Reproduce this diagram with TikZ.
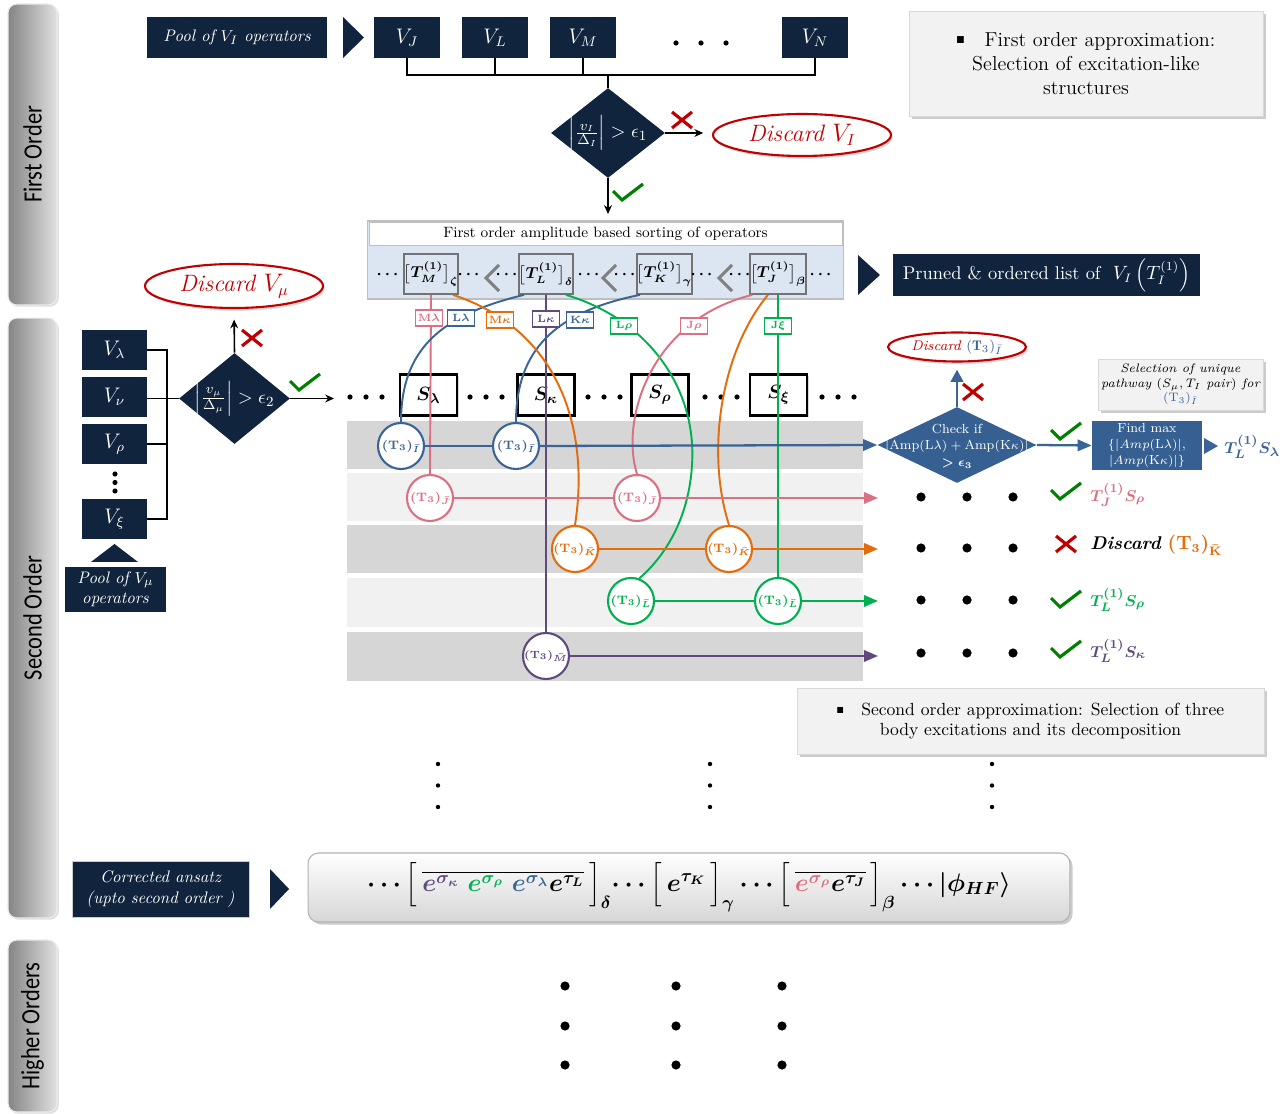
\documentclass[tikz,border=0pt]{standalone}
\usepackage{amsmath,amssymb,bm}
\usepackage{fontspec}
\newfontfamily\barfont{Carlito}
\usetikzlibrary{shapes.geometric,shadows,arrows.meta,calc}
\definecolor{navy}{RGB}{16,36,62}
\definecolor{bl}{RGB}{58,100,150}
\definecolor{blf}{RGB}{55,96,146}
\definecolor{pk}{RGB}{219,112,130}
\definecolor{org}{RGB}{228,108,10}
\definecolor{grn}{RGB}{0,176,80}
\definecolor{pur}{RGB}{96,74,123}
\definecolor{rd}{RGB}{192,0,0}
\definecolor{chk}{RGB}{0,128,0}
\definecolor{panel}{RGB}{220,230,242}
\definecolor{bandD}{RGB}{214,214,214}
\definecolor{bandL}{RGB}{241,241,241}
\definecolor{boxg}{RGB}{242,242,242}
\tikzset{
  navybox/.style={fill=navy,text=white,inner sep=0pt,align=center},
  vbox/.style={navybox,minimum width=1.32cm,minimum height=0.82cm,font=\fontsize{12}{12}\selectfont},
  dianode/.style={diamond,fill=navy,inner sep=0pt},
  blkline/.style={line width=0.9pt},
  blkarrow/.style={line width=0.9pt,-{Stealth[length=5pt,width=4.5pt]}},
  discard/.style={ellipse,draw=rd,line width=1.2pt,fill=white,text=rd,inner sep=0pt,
     drop shadow={opacity=0.3,shadow xshift=1pt,shadow yshift=-1.5pt}},
  graybox/.style={fill=boxg,draw=black!15,line width=0.4pt,align=center,inner sep=0pt,
     drop shadow={opacity=0.4,shadow xshift=1.5pt,shadow yshift=-1.5pt}},
  barsty/.style={rounded corners=5pt,left color=black!48,right color=black!12,draw=black!8,line width=0.6pt,
     drop shadow={opacity=0.25,shadow xshift=1pt,shadow yshift=-1pt}},
  bartext/.style={rotate=90,font=\barfont\fontsize{15}{15}\selectfont},
  tbox/.style={draw=black!55,line width=1pt,minimum width=1.08cm,minimum height=0.8cm,inner sep=0pt,
     font=\boldmath\fontsize{9}{9}\selectfont},
  sbox/.style={draw=black,line width=1.4pt,fill=white,minimum width=1.14cm,minimum height=0.82cm,inner sep=0pt,
     font=\boldmath\fontsize{11}{11}\selectfont,drop shadow={opacity=0.3,shadow xshift=1pt,shadow yshift=-1pt}},
  tcirc/.style={circle,draw=#1,text=#1,line width=1.2pt,fill=white,minimum size=0.92cm,inner sep=0pt,
     font=\boldmath\fontsize{7.5}{7.5}\selectfont},
  lbox/.style={draw=#1,text=#1,line width=0.7pt,fill=white,minimum width=0.54cm,minimum height=0.32cm,inner sep=0pt,
     font=\boldmath\fontsize{6.5}{6.5}\selectfont},
  cline/.style={draw=#1,line width=1.1pt},
  rowarrow/.style={draw=#1,fill=#1,line width=1.3pt,-{Triangle[length=8pt,width=6.5pt]}},
  chev/.style={draw=black!50,line width=1.8pt},
  crossmk/.pic={\draw[rd,line width=1.8pt] (-10,-8)--(10,8) (-10,8)--(10,-8);},
  checkmk/.pic={\draw[chk,line width=1.8pt] (-15,-2)--(-6,7)--(15,-9);},
  dotlbl/.style={font=\boldmath\fontsize{9}{9}\selectfont,inner sep=0pt},
  reslbl/.style={anchor=west,inner sep=0pt,font=\boldmath\fontsize{9.5}{9.5}\selectfont},
}
\begin{document}
\begin{tikzpicture}[x=0.02cm,y=-0.02cm]
\useasboundingbox (0,0) rectangle (1285,1114);
\fill[white] (0,0) rectangle (1285,1114);

% ---------- left section bars
\node[barsty,minimum width=0.98cm,minimum height=6.02cm] (bar1) at (32.5,154.5) {};
\node[bartext] (bar1t) at (bar1) {\scalebox{0.85}[1]{First Order}};
\node[barsty,minimum width=0.98cm,minimum height=12cm] (bar2) at (32.5,618) {};
\node[bartext] (bar2t) at (bar2) {\scalebox{0.85}[1]{Second Order}};
\node[barsty,minimum width=0.98cm,minimum height=3.44cm] (bar3) at (32.5,1026) {};
\node[bartext] (bar3t) at (bar3) {\scalebox{0.85}[1]{Higher Orders}};

% ---------- first order
\node[navybox,minimum width=3.6cm,minimum height=0.82cm,font=\itshape\fontsize{9.5}{9.5}\selectfont] (pool1) at (237,37.5) {Pool of $V_I$ operators};
\fill[navy] (343,17) -- (364,37.5) -- (343,58) -- cycle;
\node[vbox] (vJ) at (407,37.5) {$V_J$};
\node[vbox] (vL) at (495,37.5) {$V_L$};
\node[vbox] (vM) at (583,37.5) {$V_M$};
\node[vbox] (vN) at (815,37.5) {$V_N$};
\foreach \xx in {676,701,726} \fill (\xx,43) circle (2.6);
\coordinate (bus1) at (608,75);
\node[dianode,minimum width=2.28cm,minimum height=1.8cm] (d1) at (608,133) {};
\node[text=white,font=\fontsize{11}{11}\selectfont,inner sep=0pt] (d1t) at (d1) {$\left|\frac{v_I}{\Delta_I}\right| > \epsilon_1$};
\draw[blkline] (vJ.south) |- (bus1);
\draw[blkline] (vL.south) |- (bus1);
\draw[blkline] (vM.south) |- (bus1);
\draw[blkline] (vN.south) |- (bus1);
\draw[blkline] (bus1) -- (d1.north);
\node[discard,minimum width=3.56cm,minimum height=0.84cm,font=\itshape\fontsize{13.5}{13.5}\selectfont] (disc1) at (802,135) {Discard $V_I$};
\draw[blkarrow,shorten >=5pt] (d1.east) -- (d1.east -| disc1.west);
\pic at (682,120) {crossmk};
\coordinate (d1out) at (608,214);
\draw[blkarrow] (d1.south) -- (d1out);
\pic at (628,193) {checkmk};

\node[graybox,minimum width=7.08cm,minimum height=2.1cm,font=\fontsize{11.5}{13.6}\selectfont] (fo) at (1086,63.5)
  {\raisebox{1.5pt}{\scalebox{0.5}{$\blacksquare$}}\quad First order approximation:\\ Selection of excitation-like\\ structures};

% ---------- sorting panel
\node[fill=panel,draw=black!25,line width=0.6pt,minimum width=9.54cm,minimum height=1.56cm,inner sep=0pt] (sortp) at (605.5,260) {};
\node[fill=white,draw=black!25,line width=0.5pt,minimum width=9.46cm,minimum height=0.46cm,inner sep=0pt,font=\fontsize{8.5}{8.5}\selectfont] (sortt) at (605.5,234) {First order amplitude based sorting of operators};
\node[tbox] (tM) at (431,274) {$\big[T_M^{(1)}\big]_{\zeta}$};
\node[tbox] (tL) at (546,274) {$\big[T_L^{(1)}\big]_{\delta}$};
\node[tbox] (tK) at (664.5,274) {$\big[T_K^{(1)}\big]_{\gamma}$};
\node[tbox] (tJ) at (778,274) {$\big[T_J^{(1)}\big]_{\beta}$};
\node[dotlbl] (sd1) at (389,275) {$\cdots$};
\node[dotlbl] (sd2) at (470,275) {$\cdots$};
\node[dotlbl] (sd3) at (508,275) {$\cdots$};
\node[dotlbl] (sd4) at (590,275) {$\cdots$};
\node[dotlbl] (sd5) at (626,275) {$\cdots$};
\node[dotlbl] (sd6) at (703,275) {$\cdots$};
\node[dotlbl] (sd7) at (741,275) {$\cdots$};
\node[dotlbl] (sd8) at (822,275) {$\cdots$};
\draw[chev] (499,265) -- (486,278) -- (499,291);
\draw[chev] (616,265) -- (603,278) -- (616,291);
\draw[chev] (732,265) -- (719,278) -- (732,291);

\fill[navy] (858,255) -- (880,275) -- (858,295) -- cycle;
\node[navybox,minimum width=6.14cm,minimum height=0.84cm,font=\fontsize{10.5}{10.5}\selectfont] (pruned) at (1046.5,275) {Pruned \& ordered list of \ $V_I\left(T_I^{(1)}\right)$};

% ---------- second order: left part
\node[discard,minimum width=3.56cm,minimum height=0.88cm,font=\itshape\fontsize{13.5}{13.5}\selectfont] (disc2) at (234,286) {Discard $V_\mu$};
\node[vbox,minimum width=1.3cm] (vl) at (114.5,350) {$V_\lambda$};
\node[vbox,minimum width=1.3cm] (vn) at (114.5,397) {$V_\nu$};
\node[vbox,minimum width=1.3cm] (vr) at (114.5,444) {$V_\rho$};
\node[vbox,minimum width=1.3cm] (vx) at (114.5,519) {$V_\xi$};
\foreach \yy in {474,482.5,491} \fill (115,\yy) circle (2.6);
\fill[navy] (91,562) -- (114.5,544) -- (138,562) -- cycle;
\node[navybox,minimum width=2.02cm,minimum height=0.9cm,font=\itshape\fontsize{9.5}{11.5}\selectfont] (pool2) at (115.5,589.5) {Pool of $V_\mu$\\ operators};
\node[dianode,minimum width=2.22cm,minimum height=1.82cm] (d2) at (234.5,398.5) {};
\node[text=white,font=\fontsize{11}{11}\selectfont,inner sep=0pt] (d2t) at (d2) {$\left|\frac{v_\mu}{\Delta_\mu}\right| > \epsilon_2$};
\coordinate (bus2) at (167,398.5);
\draw[blkline] (vl.east) -| (bus2);
\draw[blkline] (vr.east) -| (bus2);
\draw[blkline] (vx.east) -| (bus2);
\draw[blkline] (vn.east |- bus2) -- (d2.west);
\draw[blkarrow,shorten >=6pt] (d2.north) -- (disc2.south);
\pic at (252,338) {crossmk};
\coordinate (d2out) at (334,398.5);
\draw[blkarrow] (d2.east) -- (d2out);
\pic at (305,383) {checkmk};

% ---------- bands
\fill[bandD] (347,421) rectangle (863,469);
\fill[bandL] (347,473) rectangle (863,521);
\fill[bandD] (347,525) rectangle (863,573);
\fill[bandL] (347,578) rectangle (863,627);
\fill[bandD] (347,632) rectangle (863,681);

% ---------- S row
\node[sbox] (sl) at (428.5,395) {$S_\lambda$};
\node[sbox] (sk) at (546,395) {$S_\kappa$};
\node[sbox] (sr) at (660,395) {$S_\rho$};
\node[sbox] (sx) at (778.5,395) {$S_\xi$};
\foreach \cx in {366,486,604,721,838} {\foreach \dx in {-16,0,16} \fill (\cx+\dx,397) circle (2.6);}

% ---------- circles
\node[tcirc=bl] (cb1) at (401,446) {$(\mathbf{T}_3)_{\bar I}$};
\node[tcirc=bl] (cb2) at (516,446) {$(\mathbf{T}_3)_{\bar I}$};
\node[tcirc=pk] (cp1) at (430,498) {$(\mathbf{T}_3)_{\bar J}$};
\node[tcirc=pk] (cp2) at (637,498) {$(\mathbf{T}_3)_{\bar J}$};
\node[tcirc=org] (co1) at (575,549) {$(\mathbf{T}_3)_{\bar K}$};
\node[tcirc=org] (co2) at (729,549) {$(\mathbf{T}_3)_{\bar K}$};
\node[tcirc=grn] (cg1) at (631,601) {$(\mathbf{T}_3)_{\bar L}$};
\node[tcirc=grn] (cg2) at (778,601) {$(\mathbf{T}_3)_{\bar L}$};
\node[tcirc=pur,font=\boldmath\fontsize{6.5}{6.5}\selectfont] (cu) at (546,656) {$(\mathbf{T}_3)_{\bar M}$};

% ---------- curves from sorted operators
\draw[cline=pk] (tM.south) -- (cp1.north);
\draw[cline=pur] (tL.south) -- (cu.north);
\draw[cline=grn] (tJ.south) -- (cg2.north);
\draw[cline=bl] ($(tL.south west)+(6,0)$) .. controls (440,315) and (401,350) .. (cb1.north);
\draw[cline=bl] ($(tK.south west)+(4,0)$) .. controls (555,312) and (516,350) .. (cb2.north);
\draw[cline=org] ($(tM.south east)+(-6,0)$) .. controls (560,330) and (590,430) .. (co1.north);
\draw[cline=grn] ($(tL.south east)+(-8,0)$) .. controls (650,320) and (697,390) .. (692,465) .. controls (688,530) and (655,565) .. (cg1.70);
\draw[cline=pk] ($(tJ.south west)+(3,0)$) .. controls (650,320) and (620,420) .. (cp2.north);
\draw[cline=org] ($(tJ.south)+(-10,0)$) .. controls (722,350) and (705,450) .. (co2.north);

% ---------- label boxes
\node[lbox=pk] (lml) at (429,318) {$\mathbf{M}\lambda$};
\node[lbox=bl] (lll) at (461,318) {$\mathbf{L}\lambda$};
\node[lbox=org] (lmk) at (500,320) {$\mathbf{M}\kappa$};
\node[lbox=pur] (llk) at (546,319) {$\mathbf{L}\kappa$};
\node[lbox=bl] (lkk) at (580,320) {$\mathbf{K}\kappa$};
\node[lbox=grn] (llr) at (624,326) {$\mathbf{L}\rho$};
\node[lbox=pk] (ljr) at (694,326) {$\mathbf{J}\rho$};
\node[lbox=grn] (ljx) at (778,326) {$\mathbf{J}\xi$};

% ---------- right part
\node[diamond,fill=blf,inner sep=0pt,minimum width=3.18cm,minimum height=1.52cm] (d3) at (957,445) {};
\node[text=white,align=center,inner sep=0pt,font=\fontsize{7.5}{9.4}\selectfont] (d3t) at (957,446) {Check if\\ $|\mathrm{Amp}(\mathrm{L}\lambda)+\mathrm{Amp}(\mathrm{K}\kappa)|$\\ $\bm{>\epsilon_3}$};
\draw[cline=bl] (cb1.east) -- (cb2.west);
\draw[rowarrow=bl] (cb2.east) -- (d3.west);
\coordinate (e2) at (878,498);
\coordinate (e3) at (878,549);
\coordinate (e4) at (878,601);
\coordinate (e5) at (878,656);
\draw[cline=pk] (cp1.east) -- (cp2.west);
\draw[rowarrow=pk] (cp2.east) -- (e2);
\draw[cline=org] (co1.east) -- (co2.west);
\draw[rowarrow=org] (co2.east) -- (e3);
\draw[cline=grn] (cg1.east) -- (cg2.west);
\draw[rowarrow=grn] (cg2.east) -- (e4);
\draw[rowarrow=pur] (cu.east) -- (e5);

\node[discard,minimum width=2.76cm,minimum height=0.58cm,font=\fontsize{8}{8}\selectfont] (disc3) at (957,347) {\textit{Discard} \textcolor{bl}{$(\mathbf{T}_3)_{\bar I}$}};
\draw[draw=bl,line width=1.6pt,-{Triangle[length=7pt,width=7pt]},shorten >=4pt] (d3.north) -- (disc3.south);
\pic at (973,392) {crossmk};
\node[fill=blf,text=white,align=center,inner sep=0pt,minimum width=2.2cm,minimum height=0.98cm,font=\fontsize{7.5}{9}\selectfont] (fm) at (1147,445.5) {Find max\\ $\{|Amp(\mathrm{L}\lambda)|,$\\ $|Amp(\mathrm{K}\kappa)|\}$};
\draw[rowarrow=bl] (d3.east) -- (fm.west);
\pic at (1066,432) {checkmk};
\fill[bl] (1204,438) -- (1218,446) -- (1204,454) -- cycle;
\node[reslbl,text=bl] (res1) at (1224,447) {$T_L^{(1)}S_\lambda$};
\node[graybox,minimum width=3.3cm,minimum height=1.02cm,font=\itshape\fontsize{7}{8.2}\selectfont] (sel) at (1180.5,384.5) {Selection of unique\\ pathway $(S_\mu,T_I$ pair$)$ for\\ \textcolor{bl}{$(\mathrm{T}_3)_{\bar I}$}};

\foreach \yy in {497,548,600,653} {\foreach \xx in {921,967,1013} \fill (\xx,\yy) circle (4.6);}
\pic at (1066,492) {checkmk};
\pic at (1066,544) {crossmk};
\pic at (1066,600) {checkmk};
\pic at (1066,650) {checkmk};
\node[reslbl,text=pk] (res2) at (1090,495) {$T_J^{(1)}S_\rho$};
\node[reslbl,font=\fontsize{10.5}{10.5}\selectfont] (res3) at (1090,545) {\textbf{\textit{Discard}} \textcolor{org}{$\bm{(\mathbf{T}_3)_{\bar{\mathbf{K}}}}$}};
\node[reslbl,text=grn] (res4) at (1090,600) {$T_L^{(1)}S_\rho$};
\node[reslbl,text=pur] (res5) at (1090,651) {$T_L^{(1)}S_\kappa$};

\node[graybox,minimum width=9.34cm,minimum height=1.32cm,font=\fontsize{10}{11.3}\selectfont] (so) at (1030.5,721)
  {\raisebox{1.2pt}{\scalebox{0.5}{$\blacksquare$}}\quad Second order approximation: Selection of three\\ body excitations and its decomposition};

% ---------- vertical dots
\foreach \xx in {438,710,992} {\foreach \yy in {764,785.5,807} \fill (\xx,\yy) circle (2.2);}

% ---------- corrected ansatz
\node[navybox,draw=black!20,line width=0.5pt,minimum width=3.54cm,minimum height=1.12cm,font=\itshape\fontsize{9.5}{12}\selectfont] (corr) at (160.5,889.5) {Corrected ansatz\\ (upto second order )};
\fill[navy] (270,869) -- (289,889) -- (270,909) -- cycle;
\node[rounded corners=6pt,top color=white,bottom color=black!16,draw=black!30,line width=0.6pt,minimum width=15.24cm,minimum height=1.38cm,inner sep=0pt,
  drop shadow={opacity=0.4,shadow xshift=1.5pt,shadow yshift=-1.5pt}] (ans) at (689,887.5) {};
\node[inner sep=0pt,font=\boldmath\fontsize{14}{14}\selectfont] (anst) at (689,887) {$\cdots\Big[\,\overline{\textcolor{pur}{e^{\sigma_\kappa}}\;\textcolor{grn}{e^{\sigma_\rho}}\;\textcolor{bl}{e^{\sigma_\lambda}}e^{\tau_L}}\,\Big]_{\delta}\!\cdots\Big[\,e^{\tau_K}\,\Big]_{\gamma}\cdots\Big[\,\overline{\textcolor{pk}{e^{\sigma_\rho}}e^{\tau_J}}\,\Big]_{\beta}\cdots|\phi_{HF}\rangle$};

% ---------- higher order dots
\foreach \xx in {565,676,782} {\foreach \yy in {986,1026,1065} \fill (\xx,\yy) circle (4.6);}
\end{tikzpicture}
\end{document}
